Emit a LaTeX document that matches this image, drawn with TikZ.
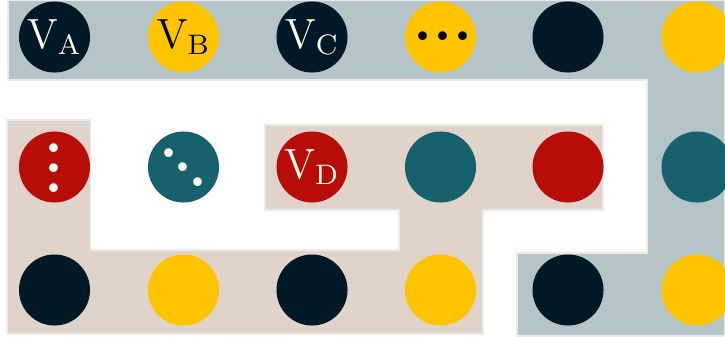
\documentclass[tikz,border=0pt]{standalone}
\usepackage{tikz}
\usetikzlibrary{positioning}
\definecolor{vdark}{HTML}{011826}
\definecolor{vyellow}{HTML}{FEC400}
\definecolor{vred}{HTML}{B70D08}
\definecolor{vteal}{HTML}{16616C}
\definecolor{vgray}{HTML}{B5C4C7}
\definecolor{vbeige}{HTML}{E0D3C9}
\definecolor{vcream}{HTML}{FFFFF0}
\tikzset{
  disc/.style={circle,inner sep=0pt,minimum size=7.1mm,font=\large},
  ddisc/.style={disc,fill=vdark,text=vcream},
  ydisc/.style={disc,fill=vyellow,text=black},
  rdisc/.style={disc,fill=vred,text=vcream},
  tdisc/.style={disc,fill=vteal,text=vcream},
  band/.style={draw=black!8,line width=0.3pt},
}
% three bold dots, offsets in pt from the disc centre
\newcommand{\dotat}[2]{\put(#1,#2){\makebox(0,0){.}}}
\newcommand{\threedots}[6]{{\LARGE\bfseries\setlength{\unitlength}{1pt}%
  \begin{picture}(0,0)\dotat{#1}{#2}\dotat{#3}{#4}\dotat{#5}{#6}\end{picture}}}

\begin{document}
\begin{tikzpicture}[x=0.01cm,y=-0.01cm]
    \useasboundingbox (0,0) rectangle (725,336);
    % background bands
    \fill[vgray,band] (8,0) -- (725,0) -- (725,336) -- (517,336) -- (517,253) -- (647,253) -- (647,80) -- (8,80) -- cycle;
    \fill[vbeige,band] (7,120) -- (90.7,120) -- (90.7,250) -- (399,250) -- (399,210) -- (265,210) -- (265,125)
      -- (603,125) -- (603,210) -- (483,210) -- (483,334) -- (7,334) -- cycle;
    % top row
    \node[ddisc] (va) at (54.5,37) {$\mathrm{V}_{\mathrm{A}}$};
    \node[ydisc] (vb) at (183.5,37) {$\mathrm{V}_{\mathrm{B}}$};
    \node[ddisc] (vc) at (312,37) {$\mathrm{V}_{\mathrm{C}}$};
    \node[ydisc] (hdots) at (440.5,37) {\threedots{-5.1}{0.3}{0.6}{0.3}{6.5}{0.3}};
    \node[ddisc] (t5) at (568,37) {};
    \node[ydisc] (t6) at (697,37) {};
    % middle row
    \node[rdisc] (vdots) at (54.5,167) {\threedots{0}{5.4}{0}{-0.3}{0}{-6.0}};
    \node[tdisc] (ddots) at (183.5,167) {\threedots{-4.1}{4.0}{0}{0}{4.1}{-4.3}};
    \node[rdisc] (vd) at (312,167) {$\mathrm{V}_{\mathrm{D}}$};
    \node[tdisc] (m4) at (440.5,167) {};
    \node[rdisc] (m5) at (568,167) {};
    \node[tdisc] (m6) at (697,167) {};
    % bottom row
    \node[ddisc] (b1) at (54.5,290) {};
    \node[ydisc] (b2) at (183.5,290) {};
    \node[ddisc] (b3) at (312,290) {};
    \node[ydisc] (b4) at (440.5,290) {};
    \node[ddisc] (b5) at (568,290) {};
    \node[ydisc] (b6) at (697,290) {};
\end{tikzpicture}
\end{document}
